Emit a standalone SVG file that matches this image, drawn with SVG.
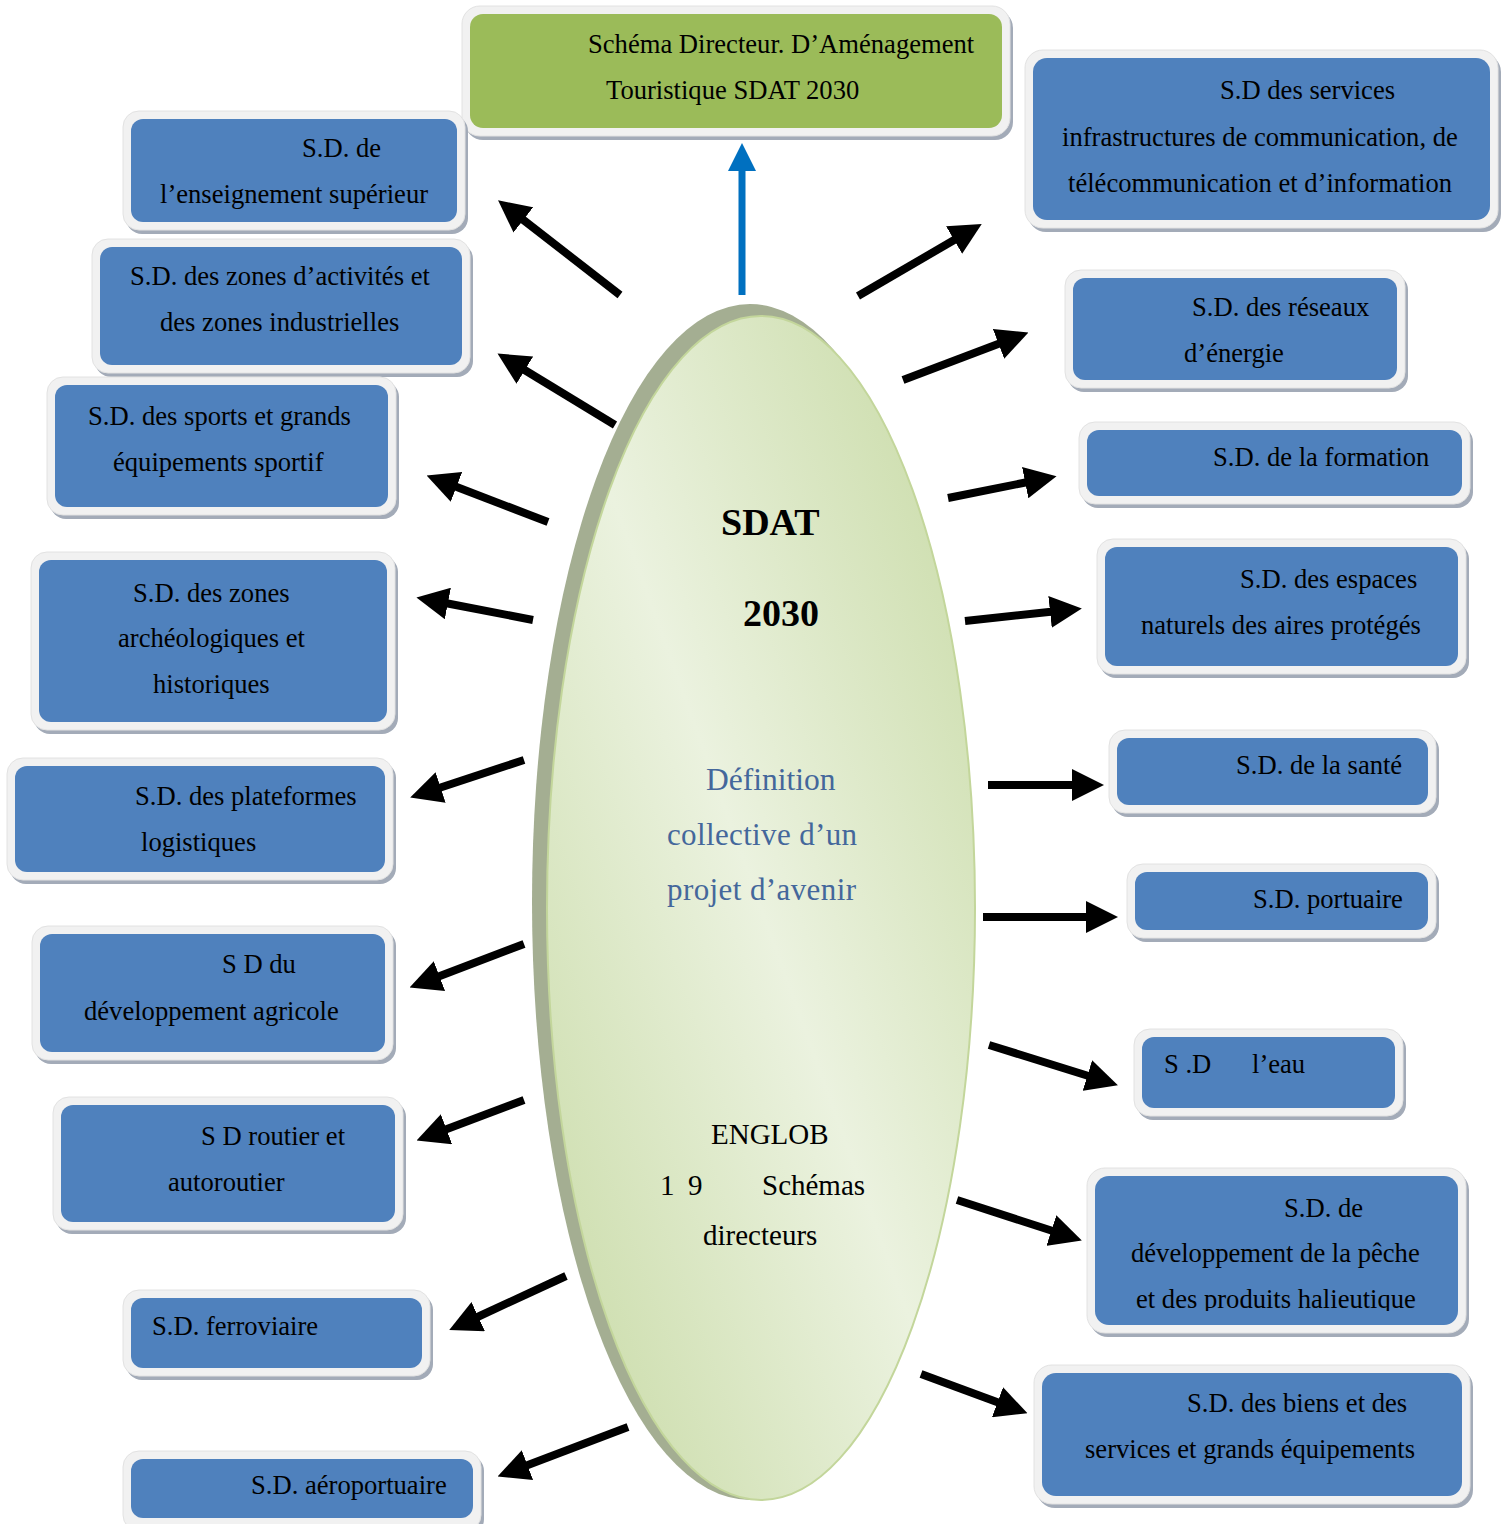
<svg xmlns="http://www.w3.org/2000/svg" width="1505" height="1524" viewBox="0 0 1505 1524">
<style>
.t{font-family:"Liberation Serif","Times New Roman",serif;font-size:26.6px;fill:#000}
.sh{fill:#a3abb8}
.fr{fill:#f1f1f1;stroke:#e2e2e2;stroke-width:1}
.bl{fill:#4f81bd}
.gr{fill:#9bbb59}
.ar{stroke:#000;stroke-width:8;fill:none;marker-end:url(#ah)}
.et{font-family:"Liberation Serif","Times New Roman",serif;text-anchor:start}
</style>
<defs>
<marker id="ah" viewBox="0 0 4 4" refX="1" refY="2" markerWidth="4" markerHeight="4" orient="auto" markerUnits="strokeWidth">
<path d="M0,0 L4,2 L0,4 z" fill="#000"/>
</marker>
<marker id="ahb" viewBox="0 0 4 4" refX="1" refY="2" markerWidth="4" markerHeight="4" orient="auto" markerUnits="strokeWidth">
<path d="M0,0 L4,2 L0,4 z" fill="#0070c0"/>
</marker>
<linearGradient id="eg" x1="0" y1="1" x2="1" y2="0">
<stop offset="0" stop-color="#c6d9a2"/>
<stop offset="0.5" stop-color="#ebf2df"/>
<stop offset="1" stop-color="#c6d9a2"/>
</linearGradient>
<clipPath id="cp"><rect x="1095" y="1176" width="363" height="135"/></clipPath>
</defs>
<rect width="1505" height="1524" fill="#fff"/>

<g id="ellipse">
<ellipse cx="750" cy="902" rx="218" ry="598" fill="#a4ae92"/>
<ellipse cx="761" cy="908" rx="214" ry="592" fill="url(#eg)" stroke="#c3d69b" stroke-width="2"/>
<text class="et" x="721" y="535" font-size="38" font-weight="bold">SDAT</text>
<text class="et" x="743" y="626" font-size="38" font-weight="bold">2030</text>
<text class="et" x="706" y="790" font-size="31.5" fill="#44679b">Définition</text>
<text class="et" x="667" y="845" font-size="31" fill="#44679b" textLength="190">collective d’un</text>
<text class="et" x="667" y="900" font-size="31" fill="#44679b" textLength="189">projet d’avenir</text>
<text class="et" x="711" y="1144" font-size="29">ENGLOB</text>
<text class="et" x="660" y="1195" font-size="29">1</text>
<text class="et" x="688" y="1195" font-size="29">9</text>
<text class="et" x="762" y="1195" font-size="29">Schémas</text>
<text class="et" x="703" y="1245" font-size="29">directeurs</text>
</g>

<g id="connectors">
<line x1="742" y1="295" x2="742" y2="164" stroke="#0070c0" stroke-width="7" marker-end="url(#ahb)"/>
<line class="ar" x1="620" y1="295" x2="517" y2="215"/>
<line class="ar" x1="615" y1="425" x2="518" y2="366"/>
<line class="ar" x1="548" y1="522" x2="449" y2="484"/>
<line class="ar" x1="533" y1="620" x2="440" y2="602"/>
<line class="ar" x1="524" y1="760" x2="433" y2="790"/>
<line class="ar" x1="524" y1="944" x2="432" y2="979"/>
<line class="ar" x1="524" y1="1100" x2="439" y2="1132"/>
<line class="ar" x1="566" y1="1276" x2="471" y2="1320"/>
<line class="ar" x1="628" y1="1427" x2="520" y2="1468"/>
<line class="ar" x1="858" y1="296" x2="961" y2="236"/>
<line class="ar" x1="903" y1="380" x2="1006" y2="341"/>
<line class="ar" x1="948" y1="498" x2="1033" y2="481"/>
<line class="ar" x1="965" y1="621" x2="1058" y2="611"/>
<line class="ar" x1="988" y1="785" x2="1080" y2="785"/>
<line class="ar" x1="983" y1="917" x2="1094" y2="917"/>
<line class="ar" x1="989" y1="1045" x2="1095" y2="1078"/>
<line class="ar" x1="957" y1="1200" x2="1059" y2="1233"/>
<line class="ar" x1="921" y1="1374" x2="1005" y2="1405"/>
</g>

<g id="n-top">
<rect class="sh" x="465" y="10" width="548" height="130" rx="18"/>
<rect class="fr" x="462" y="6" width="548" height="130" rx="18"/>
<rect class="gr" x="470" y="14" width="532" height="114" rx="13"/>
<text class="t" x="588" y="53">Schéma Directeur. D’Aménagement</text>
<text class="t" x="606" y="99">Touristique SDAT 2030</text>
</g>

<g id="n-enseignement">
<rect class="sh" x="126" y="115" width="342" height="119" rx="16"/>
<rect class="fr" x="123" y="111" width="342" height="119" rx="16"/>
<rect class="bl" x="131" y="119" width="326" height="103" rx="12"/>
<text class="t" x="302" y="157">S.D. de</text>
<text class="t" x="160" y="203">l’enseignement supérieur</text>
</g>

<g id="n-zones-activites">
<rect class="sh" x="95" y="243" width="378" height="134" rx="16"/>
<rect class="fr" x="92" y="239" width="378" height="134" rx="16"/>
<rect class="bl" x="100" y="247" width="362" height="118" rx="12"/>
<text class="t" x="130" y="285">S.D. des zones d’activités et</text>
<text class="t" x="160" y="331">des zones industrielles</text>
</g>

<g id="n-sports">
<rect class="sh" x="50" y="381" width="349" height="138" rx="16"/>
<rect class="fr" x="47" y="377" width="349" height="138" rx="16"/>
<rect class="bl" x="55" y="385" width="333" height="122" rx="12"/>
<text class="t" x="88" y="425">S.D. des sports et grands</text>
<text class="t" x="113" y="471">équipements sportif</text>
</g>

<g id="n-archeo">
<rect class="sh" x="34" y="556" width="364" height="178" rx="16"/>
<rect class="fr" x="31" y="552" width="364" height="178" rx="16"/>
<rect class="bl" x="39" y="560" width="348" height="162" rx="12"/>
<text class="t" x="133" y="602">S.D. des zones</text>
<text class="t" x="118" y="647">archéologiques et</text>
<text class="t" x="153" y="693">historiques</text>
</g>

<g id="n-plateformes">
<rect class="sh" x="10" y="762" width="386" height="122" rx="16"/>
<rect class="fr" x="7" y="758" width="386" height="122" rx="16"/>
<rect class="bl" x="15" y="766" width="370" height="106" rx="12"/>
<text class="t" x="135" y="805">S.D. des plateformes</text>
<text class="t" x="141" y="851">logistiques</text>
</g>

<g id="n-agricole">
<rect class="sh" x="35" y="930" width="361" height="134" rx="16"/>
<rect class="fr" x="32" y="926" width="361" height="134" rx="16"/>
<rect class="bl" x="40" y="934" width="345" height="118" rx="12"/>
<text class="t" x="222" y="973">S D du</text>
<text class="t" x="84" y="1020">développement agricole</text>
</g>

<g id="n-routier">
<rect class="sh" x="56" y="1101" width="350" height="133" rx="16"/>
<rect class="fr" x="53" y="1097" width="350" height="133" rx="16"/>
<rect class="bl" x="61" y="1105" width="334" height="117" rx="12"/>
<text class="t" x="201" y="1145">S D routier et</text>
<text class="t" x="168" y="1191">autoroutier</text>
</g>

<g id="n-ferroviaire">
<rect class="sh" x="126" y="1294" width="307" height="86" rx="16"/>
<rect class="fr" x="123" y="1290" width="307" height="86" rx="16"/>
<rect class="bl" x="131" y="1298" width="291" height="70" rx="12"/>
<text class="t" x="152" y="1335">S.D. ferroviaire</text>
</g>

<g id="n-aeroportuaire">
<rect class="sh" x="126" y="1455" width="358" height="80" rx="16"/>
<rect class="fr" x="123" y="1451" width="358" height="80" rx="16"/>
<rect class="bl" x="131" y="1459" width="342" height="59" rx="12"/>
<text class="t" x="251" y="1494">S.D. aéroportuaire</text>
</g>

<g id="n-communication">
<rect class="sh" x="1028" y="54" width="473" height="178" rx="18"/>
<rect class="fr" x="1025" y="50" width="473" height="178" rx="18"/>
<rect class="bl" x="1033" y="58" width="457" height="162" rx="14"/>
<text class="t" x="1220" y="99">S.D des services</text>
<text class="t" x="1062" y="146">infrastructures de communication, de</text>
<text class="t" x="1068" y="192">télécommunication et d’information</text>
</g>

<g id="n-energie">
<rect class="sh" x="1068" y="274" width="340" height="118" rx="16"/>
<rect class="fr" x="1065" y="270" width="340" height="118" rx="16"/>
<rect class="bl" x="1073" y="278" width="324" height="102" rx="12"/>
<text class="t" x="1192" y="316">S.D. des réseaux</text>
<text class="t" x="1184" y="362">d’énergie</text>
</g>

<g id="n-formation">
<rect class="sh" x="1082" y="426" width="391" height="82" rx="16"/>
<rect class="fr" x="1079" y="422" width="391" height="82" rx="16"/>
<rect class="bl" x="1087" y="430" width="375" height="66" rx="12"/>
<text class="t" x="1213" y="466">S.D. de la formation</text>
</g>

<g id="n-espaces">
<rect class="sh" x="1100" y="543" width="369" height="135" rx="16"/>
<rect class="fr" x="1097" y="539" width="369" height="135" rx="16"/>
<rect class="bl" x="1105" y="547" width="353" height="119" rx="12"/>
<text class="t" x="1240" y="588">S.D. des espaces</text>
<text class="t" x="1141" y="634">naturels des aires protégés</text>
</g>

<g id="n-sante">
<rect class="sh" x="1112" y="734" width="327" height="83" rx="16"/>
<rect class="fr" x="1109" y="730" width="327" height="83" rx="16"/>
<rect class="bl" x="1117" y="738" width="311" height="67" rx="12"/>
<text class="t" x="1236" y="774">S.D. de la santé</text>
</g>

<g id="n-portuaire">
<rect class="sh" x="1130" y="868" width="309" height="74" rx="16"/>
<rect class="fr" x="1127" y="864" width="309" height="74" rx="16"/>
<rect class="bl" x="1135" y="872" width="293" height="58" rx="12"/>
<text class="t" x="1253" y="908">S.D. portuaire</text>
</g>

<g id="n-eau">
<rect class="sh" x="1137" y="1033" width="269" height="87" rx="16"/>
<rect class="fr" x="1134" y="1029" width="269" height="87" rx="16"/>
<rect class="bl" x="1142" y="1037" width="253" height="71" rx="12"/>
<text class="t" x="1164" y="1073">S .D</text>
<text class="t" x="1252" y="1073">l’eau</text>
</g>

<g id="n-peche">
<rect class="sh" x="1090" y="1172" width="379" height="165" rx="18"/>
<rect class="fr" x="1087" y="1168" width="379" height="165" rx="18"/>
<rect class="bl" x="1095" y="1176" width="363" height="149" rx="14"/>
<text class="t" x="1284" y="1217">S.D. de</text>
<text class="t" x="1131" y="1262">développement de la pêche</text>
<text class="t" x="1136" y="1308" clip-path="url(#cp)">et des produits halieutique</text>
</g>

<g id="n-biens">
<rect class="sh" x="1037" y="1369" width="436" height="139" rx="18"/>
<rect class="fr" x="1034" y="1365" width="436" height="139" rx="18"/>
<rect class="bl" x="1042" y="1373" width="420" height="123" rx="14"/>
<text class="t" x="1187" y="1412">S.D. des biens et des</text>
<text class="t" x="1085" y="1458">services et grands équipements</text>
</g>
</svg>
